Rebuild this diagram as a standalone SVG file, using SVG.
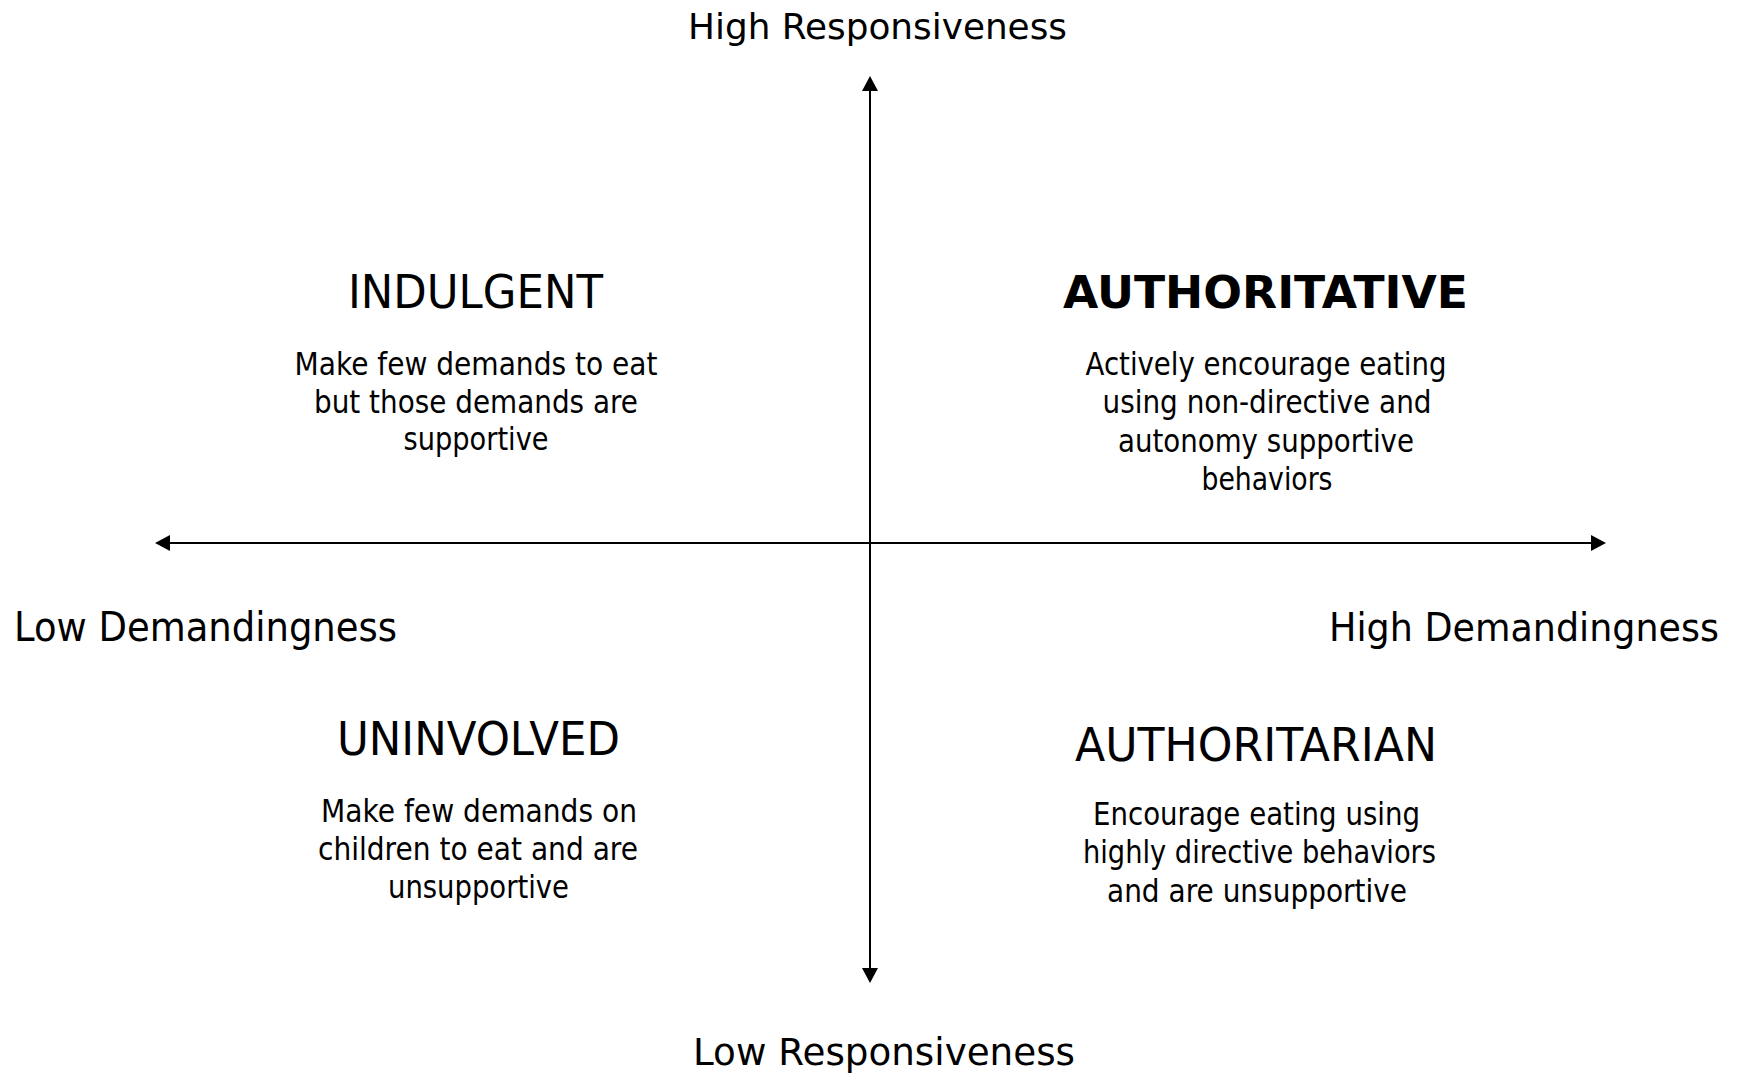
<svg xmlns="http://www.w3.org/2000/svg" width="1744" height="1075" viewBox="0 0 1744 1075">
  <style>
    text { font-family: "DejaVu Sans", "Liberation Sans", sans-serif; fill: #000; text-anchor: middle; }
    .axis { font-size: 37px; }
    .side { font-size: 40px; }
    .title { font-size: 46px; }
    .title-b { font-size: 45px; font-weight: bold; }
    .body { font-size: 32px; }
    .ax { stroke: #000; stroke-width: 2; fill: none; }
  </style>
  <defs>
    <marker id="arrow" markerUnits="userSpaceOnUse" markerWidth="15" markerHeight="16" refX="0" refY="8" orient="auto-start-reverse">
      <path d="M0,0 L15,8 L0,16 z" fill="#000"/>
    </marker>
  </defs>
  <rect width="1744" height="1075" fill="#fff"/>

  <!-- axes -->
  <g id="connectors">
    <line class="ax" x1="170" y1="543" x2="1591" y2="543" marker-start="url(#arrow)" marker-end="url(#arrow)"/>
    <line class="ax" x1="870" y1="91" x2="870" y2="968" marker-start="url(#arrow)" marker-end="url(#arrow)"/>
  </g>

  <!-- axis labels -->
  <g id="label-high-responsiveness">
    <text class="axis" x="877.5" y="39" style="font-size:36px" textLength="379" lengthAdjust="spacingAndGlyphs">High Responsiveness</text>
  </g>
  <g id="label-low-responsiveness">
    <text class="axis" x="884" y="1065" textLength="382" lengthAdjust="spacingAndGlyphs">Low Responsiveness</text>
  </g>
  <g id="label-low-demandingness">
    <text class="side" x="14" y="641" style="text-anchor:start" textLength="383" lengthAdjust="spacingAndGlyphs">Low Demandingness</text>
  </g>
  <g id="label-high-demandingness">
    <text class="side" x="1719" y="641" style="text-anchor:end;font-size:39px" textLength="390" lengthAdjust="spacingAndGlyphs">High Demandingness</text>
  </g>

  <!-- quadrants -->
  <g id="indulgent">
    <text class="title" x="475.5" y="308" textLength="255" lengthAdjust="spacingAndGlyphs">INDULGENT</text>
    <text class="body" x="476" y="375" textLength="363" lengthAdjust="spacingAndGlyphs">Make few demands to eat</text>
    <text class="body" x="476" y="413" textLength="324" lengthAdjust="spacingAndGlyphs">but those demands are</text>
    <text class="body" x="476" y="450" textLength="145" lengthAdjust="spacingAndGlyphs">supportive</text>
  </g>
  <g id="authoritative">
    <text class="title-b" x="1265.5" y="308" textLength="405" lengthAdjust="spacingAndGlyphs">AUTHORITATIVE</text>
    <text class="body" x="1266" y="375" textLength="361" lengthAdjust="spacingAndGlyphs">Actively encourage eating</text>
    <text class="body" x="1267" y="413" textLength="329" lengthAdjust="spacingAndGlyphs">using non-directive and</text>
    <text class="body" x="1266" y="452" textLength="296" lengthAdjust="spacingAndGlyphs">autonomy supportive</text>
    <text class="body" x="1267" y="490" textLength="131" lengthAdjust="spacingAndGlyphs">behaviors</text>
  </g>
  <g id="uninvolved">
    <text class="title" x="478.5" y="755" textLength="283" lengthAdjust="spacingAndGlyphs">UNINVOLVED</text>
    <text class="body" x="479" y="822" textLength="316" lengthAdjust="spacingAndGlyphs">Make few demands on</text>
    <text class="body" x="478" y="860" textLength="320" lengthAdjust="spacingAndGlyphs">children to eat and are</text>
    <text class="body" x="478.5" y="898" textLength="181" lengthAdjust="spacingAndGlyphs">unsupportive</text>
  </g>
  <g id="authoritarian">
    <text class="title" x="1256" y="761" textLength="362" lengthAdjust="spacingAndGlyphs">AUTHORITARIAN</text>
    <text class="body" x="1256.5" y="825" textLength="327" lengthAdjust="spacingAndGlyphs">Encourage eating using</text>
    <text class="body" x="1259.5" y="863" textLength="353" lengthAdjust="spacingAndGlyphs">highly directive behaviors</text>
    <text class="body" x="1257" y="902" textLength="300" lengthAdjust="spacingAndGlyphs">and are unsupportive</text>
  </g>
</svg>
